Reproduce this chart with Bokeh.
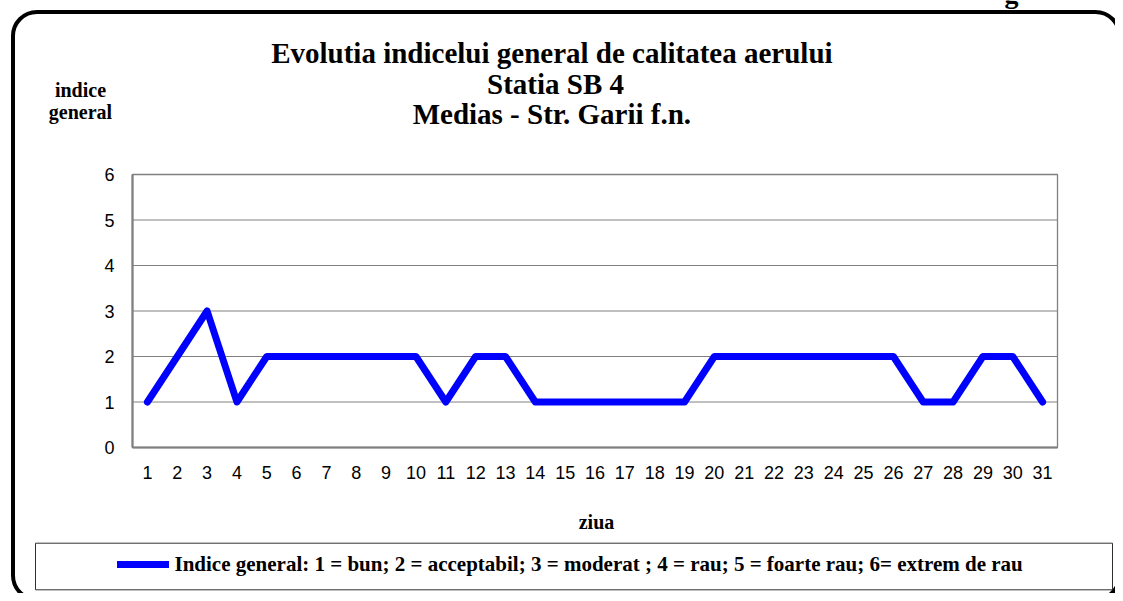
from bokeh.plotting import figure
from bokeh.models import (Label, BoxAnnotation, Legend, LegendItem, FixedTicker,
                          Range1d, ColumnDataSource, LinearAxis)
from bokeh.embed import file_html
from bokeh.resources import INLINE

# ---------------- data ----------------
days = list(range(1, 32))
indice = [1, 2, 3, 1, 2, 2, 2, 2, 2, 2, 1, 2, 2, 1, 1, 1, 1, 1, 1, 2,
          2, 2, 2, 2, 2, 2, 1, 1, 2, 2, 1]
y_ticks = [0, 1, 2, 3, 4, 5, 6]
title_lines = ["Evolutia  indicelui general de calitatea aerului",
               "Statia SB 4",
               "Medias - Str. Garii  f.n."]
y_label_lines = ["indice", "general"]
x_label = "ziua"
legend_text = ("Indice general: 1 = bun; 2 = acceptabil; 3 = moderat ; 4 = rau; "
               "5 = foarte rau; 6= extrem de rau")
cut_text = "g"

# ---------------- layout (pixels) ----------------
W, H = 1115, 593
PX_L, PX_R, PX_T, PX_B = 132, 1057, 174, 447   # plot area in canvas pixels

SERIF = "Liberation Serif"
SANS = "Liberation Sans"
GRAY = "#808080"

xlo, xhi = days[0] - 0.5, days[-1] + 0.5
ylo, yhi = y_ticks[0], y_ticks[-1]
kx = (PX_R - PX_L) / (xhi - xlo)
ky = (PX_B - PX_T) / (yhi - ylo)
x_range = Range1d(xlo - PX_L / kx, xhi + (W - PX_R) / kx)
y_range = Range1d(ylo - (H - PX_B) / ky, yhi + PX_T / ky)

p = figure(width=W, height=H, output_backend="svg", toolbar_location=None,
           title=None, x_range=x_range, y_range=y_range,
           x_axis_location=None, y_axis_location=None,
           min_border=0, min_border_left=0, min_border_right=0,
           min_border_top=0, min_border_bottom=0)
p.outline_line_color = None
p.background_fill_color = "white"
p.border_fill_color = "white"
p.xgrid.visible = False
p.ygrid.visible = False


def sy(py):
    """canvas pixel y (from top) -> screen units (from frame bottom)"""
    return H - py


def base(py, fs):
    """desired baseline pixel -> label y (compensate renderer offset)"""
    return sy(py - 0.35 * fs)


# outer rounded border
p.add_layout(BoxAnnotation(left=12.5, right=1119, top=sy(11.5), bottom=sy(599),
                           left_units="screen", right_units="screen",
                           top_units="screen", bottom_units="screen",
                           fill_alpha=0, line_color="black", line_alpha=1,
                           line_width=4, border_radius=24, level="underlay"))

# plot area: grid lines and border
grid_y = y_ticks[1:-1]
p.segment(x0=[xlo] * len(grid_y), x1=[xhi] * len(grid_y), y0=grid_y, y1=grid_y,
          line_color=GRAY, line_width=1)
p.quad(left=[xlo], right=[xhi], bottom=[ylo], top=[yhi], fill_alpha=0,
       line_color=GRAY, line_width=1.3)

# data line
src = ColumnDataSource(dict(x=days, y=indice))
r = p.line("x", "y", source=src, line_color="#0000FF", line_width=7,
           line_join="round", line_cap="round")

# axes drawn at fixed locations inside the frame
xaxis = LinearAxis(fixed_location=ylo, bounds=(xlo, xhi),
                   ticker=FixedTicker(ticks=days))
yaxis = LinearAxis(fixed_location=xlo, bounds=(ylo, yhi),
                   ticker=FixedTicker(ticks=y_ticks))
for ax in (xaxis, yaxis):
    ax.major_tick_line_color = None
    ax.minor_tick_line_color = None
    ax.major_tick_out = 0
    ax.major_tick_in = 0
    ax.minor_tick_out = 0
    ax.axis_line_color = GRAY
    ax.axis_line_width = 2.2
    ax.major_label_text_font = SANS
    ax.major_label_text_font_size = "18px"
    ax.major_label_text_color = "black"
xaxis.major_label_standoff = 18
yaxis.major_label_standoff = 18
p.add_layout(xaxis, "below")
p.add_layout(yaxis, "left")

# titles
TFS = 29
for t, b in zip(title_lines, [62.3, 93.3, 123.3]):
    p.add_layout(Label(x=555, y=base(b, TFS), x_units="screen", y_units="screen",
                       text=t, text_font=SERIF, text_font_style="bold",
                       text_font_size=f"{TFS}px", text_align="center",
                       text_baseline="alphabetic", text_color="black"))

LFS = 20
for t, b in zip(y_label_lines, [96.7, 118.3]):
    p.add_layout(Label(x=80, y=base(b, LFS), x_units="screen", y_units="screen",
                       text=t, text_font=SERIF, text_font_style="bold",
                       text_font_size=f"{LFS}px", text_align="center",
                       text_baseline="alphabetic", text_color="black"))

p.add_layout(Label(x=596, y=base(528, LFS), x_units="screen", y_units="screen",
                   text=x_label, text_font=SERIF, text_font_style="bold",
                   text_font_size=f"{LFS}px", text_align="center",
                   text_baseline="alphabetic", text_color="black"))

p.add_layout(Label(x=1011, y=base(3, 28), x_units="screen", y_units="screen",
                   text=cut_text, text_font=SERIF, text_font_style="bold",
                   text_font_size="28px", text_align="center",
                   text_baseline="alphabetic", text_color="black"))

# legend box
p.add_layout(BoxAnnotation(left=35, right=1112, top=sy(542.7), bottom=sy(589.3),
                           left_units="screen", right_units="screen",
                           top_units="screen", bottom_units="screen",
                           fill_alpha=0, line_color="#303030", line_alpha=1,
                           line_width=1, level="underlay"))

legend = Legend(items=[LegendItem(label=legend_text, renderers=[r])],
                location=(116.5, sy(566.5) - 10), orientation="horizontal",
                glyph_width=52, glyph_height=20, padding=0, margin=0,
                label_standoff=6, spacing=0,
                label_text_font=SERIF, label_text_font_style="bold",
                label_text_font_size="21px", label_text_color="black",
                border_line_alpha=0, background_fill_alpha=0)
p.add_layout(legend, "center")

open("out.html", "w").write(file_html(p, INLINE))
